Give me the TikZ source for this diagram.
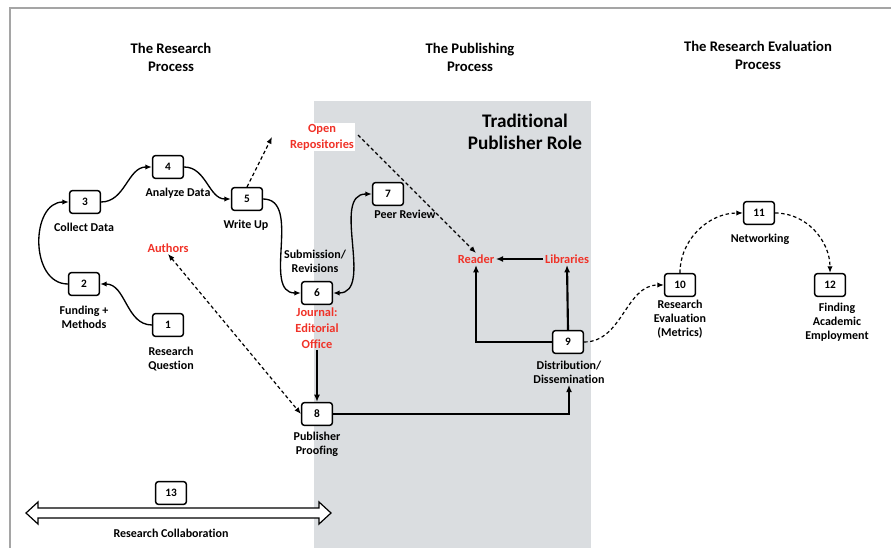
\documentclass[tikz,border=0pt]{standalone}
\usepackage{fontspec}
\setmainfont{Carlito}[Ligatures=NoCommon]
\usetikzlibrary{arrows.meta}
\definecolor{pubgray}{RGB}{218,221,224}
\definecolor{framegray}{RGB}{165,165,165}
\definecolor{hot}{RGB}{240,50,40}
\tikzset{
  numbox/.style={draw=black, line width=1.1pt, rounded corners=2pt, fill=white,
    minimum width=23, minimum height=17, inner sep=0pt, font=\bfseries\fontsize{8.5}{9}\selectfont},
  lbl/.style={align=center, inner sep=1pt, font=\bfseries\fontsize{9}{10.5}\selectfont},
  redlbl/.style={lbl, text=hot, font=\bfseries\fontsize{9.3}{12}\selectfont},
  head/.style={align=center, inner sep=1pt, font=\bfseries\fontsize{11}{13.5}\selectfont},
  flow/.style={line width=1pt, -{Latex[length=5pt,width=4pt]}},
  bold flow/.style={line width=1.6pt, -{Latex[length=5.5pt,width=4.5pt]}},
  dflow/.style={line width=0.9pt, dash pattern=on 2.6pt off 2pt, -{Latex[length=5pt,width=4pt]}},
}
\begin{document}
\begin{tikzpicture}[x=0.75pt,y=-0.75pt]
\useasboundingbox (0,0) rectangle (891,548);
% publisher region
\fill[pubgray] (314,101) rectangle (591,548);
% frame
\draw[framegray, line width=1pt] (10,548) -- (10,8) -- (891,8);

% headings
\node[head] (hres) at (171,57) {The Research\\Process};
\node[head] (hpub) at (470,57) {The Publishing\\Process};
\node[head] (heval) at (758,55) {The Research Evaluation\\Process};
\node[align=center, inner sep=1pt, font=\bfseries\fontsize{14.4}{17}\selectfont] (trad) at (525,132) {Traditional\\Publisher Role};

% numbered steps
\node[numbox] (b1) at (168,325) {1};
\node[numbox] (b2) at (84,284) {2};
\node[numbox] (b3) at (85,202) {3};
\node[numbox] (b4) at (168,167) {4};
\node[numbox] (b5) at (247,199) {5};
\node[numbox] (b6) at (317,293) {6};
\node[numbox] (b7) at (388,194) {7};
\node[numbox] (b8) at (317,414) {8};
\node[numbox] (b9) at (568,342) {9};
\node[numbox] (b10) at (680,285) {10};
\node[numbox] (b11) at (759,213) {11};
\node[numbox] (b12) at (830,285) {12};
\node[numbox] (b13) at (171,493) {13};

% step labels
\node[lbl] (l1) at (171,359) {Research\\Question};
\node[lbl] (l2) at (84,317) {Funding +\\Methods};
\node[lbl] (l3) at (84,227) {Collect Data};
\node[lbl] (l4) at (178,193) {Analyze Data};
\node[lbl] (l5) at (246,225) {Write Up};
\node[lbl] (l7) at (405,214) {Peer Review};
\node[lbl] (lsub) at (315,261) {Submission/\\Revisions};
\node[lbl] (l8) at (317,444) {Publisher\\Proofing};
\node[lbl] (l9) at (569,372) {Distribution/\\Dissemination};
\node[lbl] (l10) at (680,319) {Research\\Evaluation\\(Metrics)};
\node[lbl] (l11) at (760,239) {Networking};
\node[lbl] (l12) at (837,322) {Finding\\Academic\\Employment};
\node[lbl] (l13) at (171,533) {Research Collaboration};

% actors
\node[redlbl] (authors) at (168,248) {Authors};
\node[redlbl, fill=white, inner sep=0.5pt] (repo) at (322,137) {Open\\Repositories};
\node[redlbl] (journal) at (317,328) {Journal:\\Editorial\\Office};
\node[redlbl] (reader) at (476,259) {Reader};
\node[redlbl] (libs) at (567,259) {Libraries};

% research process
\draw[flow] (b1.west) to[out=180,in=0] (b2.east);
\draw[flow] (b2.west) to[out=180,in=180,looseness=1.2] (b3.west);
\draw[flow] (b3.east) to[out=0,in=180] (b4.west);
\draw[flow] (b4.east) to[out=0,in=180] (b5.west);
\draw[flow] (b5.east) to[out=0,in=180] (b6.west);
\draw[flow, {Latex[length=5pt,width=4pt]}-{Latex[length=5pt,width=4pt]}] (b6.east) to[out=0,in=180] (b7.west);

% open access routes
\coordinate (repoIn) at (272,137);
\coordinate (repoOut) at (358,135);
\draw[dflow] (b5.north) -- (repoIn);
\draw[dflow] (repoOut) -- (reader.north);
\draw[dflow, {Latex[length=5pt,width=4pt]}-{Latex[length=5pt,width=4pt]}] (authors.south) -- (b8.west);

% publishing chain
\draw[bold flow] (journal.south) -- (b8.north);
\draw[bold flow] (b8.east) -| (l9.south);
\draw[bold flow] (b9.west) -| (reader.south);
\draw[bold flow] (b9.north) -- (libs.south);
\draw[bold flow] (libs.west) -- (reader.east);

% evaluation
\draw[dflow] (b9.east) to[out=0,in=180] (b10.west);
\draw[dflow] (b10.north) to[out=90,in=180] (b11.west);
\draw[dflow] (b11.east) to[out=0,in=90] (b12.north);

% collaboration double arrow
\draw[line width=0.9pt, fill=white, line join=miter]
  (26,513) -- (38,502) -- (38,508) -- (319,508) -- (319,502) -- (331,513)
  -- (319,524) -- (319,518) -- (38,518) -- (38,524) -- cycle;
\end{tikzpicture}
\end{document}
